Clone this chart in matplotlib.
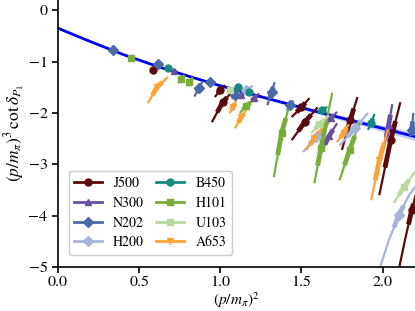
import numpy as np
import matplotlib
matplotlib.use("Agg")
import matplotlib.pyplot as plt
from matplotlib.lines import Line2D

plt.rcParams["font.family"] = "serif"
plt.rcParams["font.serif"] = ["STIXGeneral", "Liberation Serif", "DejaVu Serif"]
plt.rcParams["mathtext.fontset"] = "stix"
plt.rcParams["font.size"] = 11

# -----------------------
# Fit curve
# -----------------------
fit_x = [0.0, 0.2, 0.4, 0.6, 0.8, 1.0, 1.2, 1.4, 1.6, 1.8, 2.0, 2.2]
fit_y = [-0.35, -0.61, -0.86, -1.08, -1.28, -1.47, -1.64, -1.81, -1.98, -2.14, -2.30, -2.46]
fit_err = [0.01, 0.01, 0.01, 0.012, 0.015, 0.02, 0.025, 0.03, 0.04, 0.05, 0.06, 0.08]

# -----------------------
# Data: each point is a path (low end -> centre -> high end), marker at the middle vertex
# -----------------------
J500 = [
    [(0.575, -1.20), (0.585, -1.17), (0.595, -1.13)],
    [(0.966, -1.69), (1.000, -1.56), (1.030, -1.46)],
    [(0.948, -2.18), (1.015, -1.79), (1.070, -1.60)],
    [(1.440, -2.08), (1.500, -1.89), (1.550, -1.71)],
    [(1.440, -2.53), (1.520, -2.18), (1.600, -1.89)],
    [(1.750, -2.72), (1.800, -2.14), (1.846, -1.69)],
    [(1.980, -3.60), (2.050, -2.53), (2.110, -1.79)],
    [(2.100, -5.05), (2.140, -4.45), (2.180, -3.89), (2.200, -3.65), (2.230, -3.30)],
]
N300 = [
    [(0.700, -1.22), (0.714, -1.19), (0.730, -1.16)],
    [(1.110, -1.72), (1.130, -1.65), (1.150, -1.58)],
    [(1.180, -1.81), (1.210, -1.71), (1.240, -1.62)],
    [(1.640, -2.20), (1.680, -2.10), (1.720, -1.98)],
    [(1.620, -2.78), (1.670, -2.45), (1.720, -2.20)],
    [(2.006, -2.72), (2.037, -2.24), (2.060, -1.83)],
]
N202 = [
    [(0.330, -0.79), (0.338, -0.78), (0.346, -0.77)],
    [(0.600, -1.08), (0.615, -1.05), (0.630, -1.02)],
    [(0.840, -1.68), (0.870, -1.52), (0.890, -1.38)],
    [(0.925, -1.42), (0.935, -1.40), (0.945, -1.37)],
    [(1.070, -1.72), (1.090, -1.65), (1.110, -1.56)],
    [(1.290, -1.85), (1.317, -1.59), (1.335, -1.40)],
    [(1.410, -1.95), (1.430, -1.85), (1.450, -1.76)],
    [(2.170, -2.45), (2.180, -2.33), (2.190, -2.00)],
]
H200 = [
    [(1.140, -1.60), (1.160, -1.55), (1.200, -1.47)],
    [(1.510, -2.76), (1.590, -2.47), (1.674, -2.18)],
    [(1.735, -2.63), (1.830, -2.30), (1.910, -2.00)],
    [(1.980, -5.05), (2.040, -4.47), (2.100, -3.99), (2.160, -3.62), (2.220, -3.35)],
]
B450 = [
    [(0.665, -1.15), (0.677, -1.13), (0.690, -1.11)],
    [(1.100, -1.53), (1.110, -1.50), (1.120, -1.46)],
    [(1.170, -1.63), (1.180, -1.60), (1.190, -1.56)],
    [(1.600, -2.00), (1.625, -1.95), (1.660, -1.88)],
    [(1.910, -2.33), (1.930, -2.20), (1.950, -2.02)],
]
H101 = [
    [(0.440, -0.95), (0.449, -0.93), (0.458, -0.91)],
    [(0.740, -1.42), (0.760, -1.33), (0.780, -1.26)],
    [(0.800, -1.48), (0.810, -1.40), (0.830, -1.30)],
    [(1.120, -2.00), (1.160, -1.87), (1.210, -1.73)],
    [(1.330, -3.25), (1.378, -2.39), (1.430, -1.81)],
    [(1.580, -3.37), (1.620, -2.68), (1.690, -1.61)],
    [(1.735, -3.31), (1.797, -2.72), (1.860, -2.18)],
]
U103 = [
    [(1.040, -1.60), (1.060, -1.55), (1.080, -1.50)],
    [(1.560, -2.40), (1.610, -2.22), (1.670, -2.05)],
    [(2.070, -3.75), (2.130, -3.45), (2.200, -3.15)],
]
A653 = [
    [(0.554, -1.81), (0.609, -1.50), (0.677, -1.30)],
    [(1.058, -2.00), (1.077, -1.89), (1.100, -1.75)],
    [(1.090, -2.30), (1.130, -2.08), (1.160, -1.95)],
    [(1.530, -2.72), (1.580, -2.49), (1.640, -2.24)],
    [(1.720, -2.57), (1.760, -2.39), (1.800, -2.18)],
    [(1.930, -3.70), (1.980, -2.92), (2.040, -2.24)],
]

ensembles = ["J500", "N300", "N202", "H200", "B450", "H101", "U103", "A653"]
data = [J500, N300, N202, H200, B450, H101, U103, A653]
colors = ["#5a0b0b", "#6a4f9e", "#4a6aa7", "#a6b4da", "#178a7e", "#78ad3a", "#b8d99e", "#fba33a"]
markers = ["o", "^", "D", "D", "o", "s", "s", "v"]

# -----------------------
# Plot
# -----------------------
fig = plt.figure(figsize=(4.15, 3.11), dpi=100)
ax = fig.add_axes([58/415, 44/311, 357/415, 267/311])

fx = np.array(fit_x); fy = np.array(fit_y); fe = np.array(fit_err)
ax.fill_between(fx, fy - fe, fy + fe, color="#9fa8ff", alpha=0.6, lw=0, zorder=1)
ax.plot(fx, fy, color="#0000ee", lw=2, zorder=1.5)

for pts_list, c, mk in zip(data, colors, markers):
    for pts in pts_list:
        p = np.array(pts)
        i = len(p) // 2
        # outer (thin) part
        ax.plot(p[:, 0], p[:, 1], color=c, lw=1.6, zorder=2, solid_capstyle="butt")
        # inner (thick) part
        a = 0.5 * (p[i - 1] + p[i]); b = 0.5 * (p[i] + p[i + 1])
        ax.plot([a[0], p[i, 0], b[0]], [a[1], p[i, 1], b[1]], color=c, lw=3.5,
                zorder=2, solid_capstyle="butt")
        ax.plot(p[i, 0], p[i, 1], marker=mk, color=c, ms=5, zorder=3)

ax.set_xlim(0, 2.2)
ax.set_ylim(-5, 0.2)
ax.set_xticks([0.0, 0.5, 1.0, 1.5, 2.0])
ax.set_yticks([0, -1, -2, -3, -4, -5])
ax.spines["top"].set_visible(False)
ax.spines["right"].set_visible(False)
ax.spines["left"].set_linewidth(1.2)
ax.spines["bottom"].set_linewidth(1.2)
ax.tick_params(direction="out", length=4, width=1.2, labelsize=11.5)
ax.tick_params(axis="x", pad=2.5)
ax.set_xlabel(r"$(p/m_\pi)^2$", fontsize=11, labelpad=0.5)
ax.set_ylabel(r"$(p/m_\pi)^3\,\cot\delta_{P_1}$", fontsize=12.5, labelpad=1)

handles = [Line2D([], [], color=c, marker=mk, lw=2, ms=5) for c, mk in zip(colors, markers)]
ax.legend(handles, ensembles, loc="lower left", ncol=2, fontsize=10,
          handlelength=2.0, columnspacing=0.9, labelspacing=0.45,
          borderpad=0.4, bbox_to_anchor=(0.01, 0.02), framealpha=1.0)

fig.savefig("out.png", dpi=100)
